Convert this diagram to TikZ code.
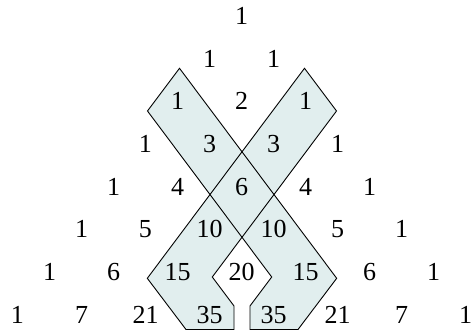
\documentclass[tikz,border=0pt]{standalone}
\usepackage{fontspec}
\setmainfont{Liberation Serif}
\definecolor{bandfill}{RGB}{225,238,238}
\begin{document}
\begin{tikzpicture}[x=1pt,y=-1pt,
  band/.style={fill=bandfill},
  bandline/.style={draw=black,line width=0.9pt,line join=miter},
  num/.style={anchor=base,inner sep=0pt,font=\fontsize{26}{30}\selectfont}]
\useasboundingbox (0,0) rectangle (475,331);
% shape A (down-left stick, ends at left 35)
\coordinate (A1) at (304.5,68.3);
\coordinate (A2) at (336.5,111);
\coordinate (A3) at (212.3,277);
\coordinate (A4) at (234,306);
\coordinate (A5) at (234,329.5);
\coordinate (A6) at (186,329.5);
\coordinate (A7) at (147.3,278.3);
% shape B (down-right stick, ends at right 35)
\coordinate (B1) at (179.5,68.3);
\coordinate (B2) at (147.5,111);
\coordinate (B3) at (271.7,277);
\coordinate (B4) at (250,306);
\coordinate (B5) at (250,329.5);
\coordinate (B6) at (298,329.5);
\coordinate (B7) at (336.7,278.3);
\fill[band] (A1)--(A2)--(A3)--(A4)--(A5)--(A6)--(A7)--cycle;
\fill[band] (B1)--(B2)--(B3)--(B4)--(B5)--(B6)--(B7)--cycle;
\draw[bandline] (A1)--(A2)--(A3)--(A4)--(A5)--(A6)--(A7)--cycle;
\draw[bandline] (B1)--(B2)--(B3)--(B4)--(B5)--(B6)--(B7)--cycle;
% numbers
\foreach \r/\vals in {0/{1},1/{1,1},2/{1,2,1},3/{1,3,3,1},4/{1,4,6,4,1},5/{1,5,10,10,5,1},6/{1,6,15,20,15,6,1},7/{1,7,21,35,35,21,7,1}}{
  \foreach \v [count=\k from 0] in \vals {
    \node[num] (n\r-\k) at ({241.5+32*(2*\k-\r)},{24.5+42.7*\r}) {\v};
  }
}
\end{tikzpicture}
\end{document}
